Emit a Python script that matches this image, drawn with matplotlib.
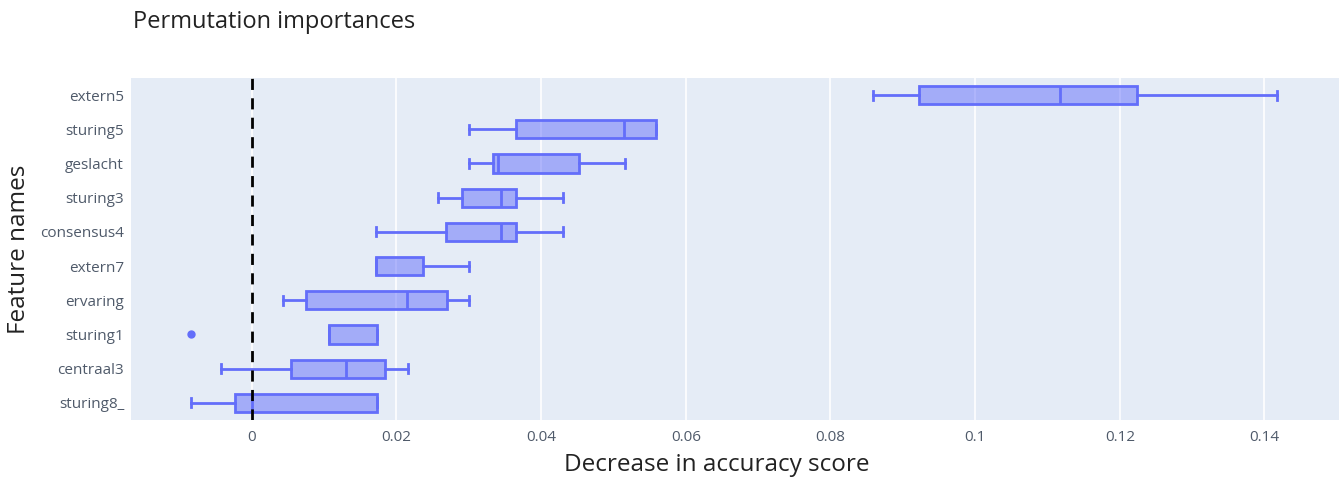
import matplotlib.pyplot as plt
from matplotlib.ticker import FixedLocator

# feature names, top to bottom as shown
features = ["extern5", "sturing5", "geslacht", "sturing3", "consensus4",
            "extern7", "ervaring", "sturing1", "centraal3", "sturing8_"]

# box statistics
whisker_low = [0.0859, 0.0300, 0.0300, 0.0258, 0.0172, 0.0172, 0.0043, 0.0107, -0.0043, -0.0084]
q1 = [0.0923, 0.0365, 0.0333, 0.0290, 0.0268, 0.0172, 0.0075, 0.0107, 0.0054, -0.0023]
median = [0.1117, 0.0515, 0.0341, 0.0345, 0.0345, 0.0172, 0.0215, 0.0107, 0.0130, 0.0]
q3 = [0.1224, 0.0559, 0.0452, 0.0365, 0.0365, 0.0237, 0.0270, 0.0173, 0.0184, 0.0173]
whisker_high = [0.1417, 0.0559, 0.0516, 0.0430, 0.0430, 0.0300, 0.0300, 0.0173, 0.0216, 0.0173]
outliers = [[], [], [], [], [], [], [], [-0.0084], [], []]

xticks = [0, 0.02, 0.04, 0.06, 0.08, 0.1, 0.12, 0.14]
xtick_labels = ["0", "0.02", "0.04", "0.06", "0.08", "0.1", "0.12", "0.14"]

plt.rcParams['font.family'] = ['Open Sans', 'DejaVu Sans']

edge = "#636EFA"
fill = (99 / 255, 110 / 255, 250 / 255, 0.5)

fig = plt.figure(figsize=(13.41, 4.79), dpi=100)
ax = fig.add_axes((0.0977, 0.1232, 0.9008, 0.714))
ax.set_facecolor("#E5ECF6")

n = len(features)
positions = [n - 1 - i for i in range(n)]
stats = []
for i in range(n):
    stats.append({
        "whislo": whisker_low[i], "q1": q1[i], "med": median[i],
        "q3": q3[i], "whishi": whisker_high[i], "fliers": outliers[i],
    })

ax.bxp(stats, positions=positions, vert=False, widths=0.53, patch_artist=True,
       showfliers=True, manage_ticks=False,
       boxprops=dict(facecolor=fill, edgecolor=edge, linewidth=2),
       medianprops=dict(color=edge, linewidth=2),
       whiskerprops=dict(color=edge, linewidth=2),
       capprops=dict(color=edge, linewidth=2),
       flierprops=dict(marker="o", markerfacecolor=edge, markeredgecolor=edge, markersize=5))

ax.axvline(0, color="black", linestyle=(0, (4, 3)), linewidth=2, zorder=5)

ax.set_xlim(-0.0167, 0.1503)
ax.set_ylim(-0.5, n - 0.5)
ax.xaxis.set_major_locator(FixedLocator(xticks))
ax.set_xticklabels(xtick_labels)
ax.set_yticks(positions)
ax.set_yticklabels(features)
ax.grid(axis="x", color="white", linewidth=1.2)
ax.set_axisbelow(True)
for s in ax.spines.values():
    s.set_visible(False)
ax.tick_params(axis="both", length=0, labelsize=11, labelcolor="#4f5a6a")
ax.tick_params(axis="x", pad=7)
ax.tick_params(axis="y", pad=5)

ax.set_xlabel("Decrease in accuracy score", fontsize=17.5, color="#222222")
ax.xaxis.set_label_coords(0.485, -0.097)
ax.set_ylabel("Feature names", fontsize=17.5, color="#222222")
ax.yaxis.set_label_coords(-0.083, 0.5)
fig.text(0.099, 0.954, "Permutation importances", fontsize=17, color="#222222", va="center")

fig.savefig("out.png", dpi=100)
